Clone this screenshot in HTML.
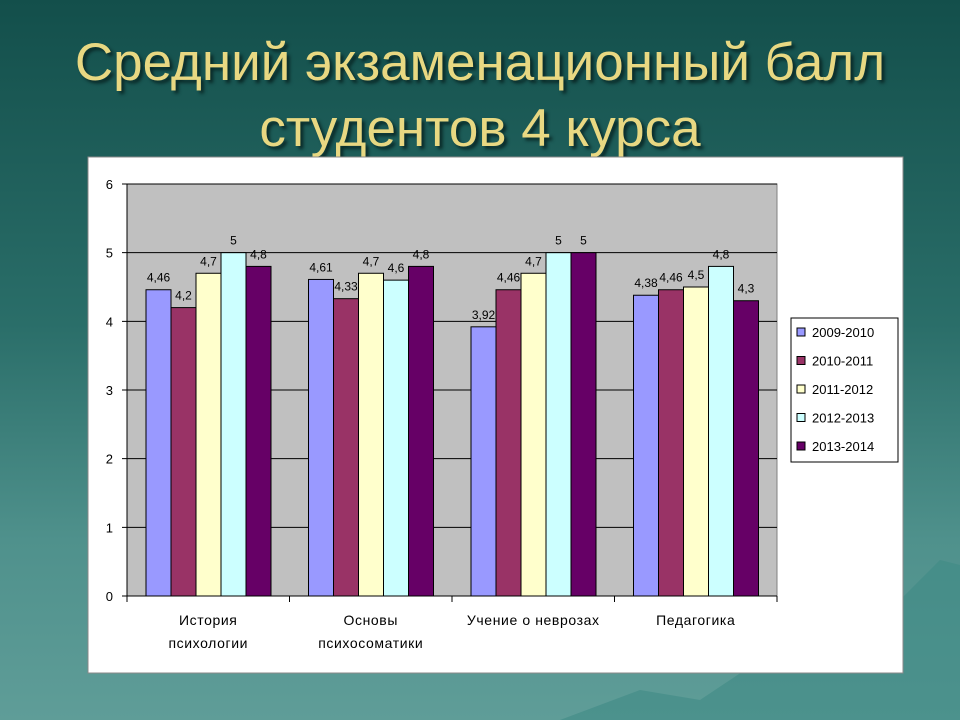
<!DOCTYPE html>
<html><head><meta charset="utf-8">
<style>
body{margin:0;width:960px;height:720px;overflow:hidden;font-family:"Liberation Sans",sans-serif;
background:linear-gradient(180deg,#134f4b 0%,#2a6e69 45%,#4f918c 75%,#5f9d98 100%);position:relative}
#title{position:absolute;left:0;top:30px;width:960px;text-align:center;color:#e8d882;font-size:53px;line-height:66px;text-shadow:3px 3px 3px #0a2a28}
#mountain{position:absolute;left:0;top:0}
</style></head><body>
<svg id="mountain" width="960" height="720">
<polygon points="560,720 640,690 700,700 760,660 840,640 900,600 940,560 960,565 960,720" fill="#3f8a86" opacity="0.6"/>
</svg>
<div id="title">Средний экзаменационный балл<br>студентов 4 курса</div>
<svg id="chart" width="960" height="720" style="position:absolute;left:0;top:0"></svg>
<script>
const categories=[["История","психологии"],["Основы","психосоматики"],["Учение о неврозах"],["Педагогика"]];
const seriesNames=["2009-2010","2010-2011","2011-2012","2012-2013","2013-2014"];
const s0=[4.46,4.61,3.92,4.38];
const s1=[4.2,4.33,4.46,4.46];
const s2=[4.7,4.7,4.7,4.5];
const s3=[5,4.6,5,4.8];
const s4=[4.8,4.8,5,4.3];
const labels0=["4,46","4,61","3,92","4,38"];
const labels1=["4,2","4,33","4,46","4,46"];
const labels2=["4,7","4,7","4,7","4,5"];
const labels3=["5","4,6","5","4,8"];
const labels4=["4,8","4,8","5","4,3"];
const yTicks=[0,1,2,3,4,5,6];
const series=[s0,s1,s2,s3,s4];
const labels=[labels0,labels1,labels2,labels3,labels4];
const colors=["#9999ff","#993366","#ffffcc","#ccffff","#660066"];
const NS="http://www.w3.org/2000/svg";
const svg=document.getElementById('chart');
const px0=127,px1=777,py0=596,py1=184,yMax=6;
const y=v=>py0-(v/yMax)*(py0-py1);
const gw=(px1-px0)/categories.length;
const bw=25;
const x=(c,s)=>px0+c*gw+19+s*bw;
function el(t,a,p){const e=document.createElementNS(NS,t);for(const k in a)e.setAttribute(k,a[k]);(p||svg).appendChild(e);return e;}
const panel=el('rect',{x:88,y:157,width:815,height:516,fill:'#fff',stroke:'#888'});


const plot=el('rect',{x:px0,y:py1,width:px1-px0,height:py0-py1,fill:'#c0c0c0',stroke:'#808080'});


yTicks.forEach(t=>{
 const g=el('line',{x1:px0-5,x2:px1,y1:y(t),y2:y(t),stroke:'#000','stroke-width':1});
 
 
 const tl=el('text',{x:px0-14,y:y(t)+5,'text-anchor':'end','font-size':13,fill:'#000'});
 tl.textContent=t;
 
 
});
el('line',{x1:px0,x2:px0,y1:py1,y2:py0,stroke:'#000'});
for(let c=0;c<=categories.length;c++){el('line',{x1:px0+c*gw,x2:px0+c*gw,y1:py0,y2:py0+6,stroke:'#000'});}
series.forEach((s,si)=>{
 s.forEach((v,c)=>{
  const r=el('rect',{x:x(c,si),y:y(v),width:bw,height:py0-y(v),fill:colors[si],stroke:'#000','stroke-width':1});
  
  
  const t=el('text',{x:x(c,si)+bw/2,y:y(v)-8,'text-anchor':'middle','font-size':12,fill:'#000'});
  t.textContent=labels[si][c];
  
  
 });
});
categories.forEach((lines,c)=>{
 lines.forEach((ln,i)=>{
  const t=el('text',{x:px0+c*gw+gw/2,y:625+i*23,'text-anchor':'middle','font-size':14,'letter-spacing':'0.6',fill:'#000'});
  t.textContent=ln;
  
  
 });
});
const lg=el('rect',{x:791,y:318,width:107,height:144,fill:'#fff',stroke:'#000'});


seriesNames.forEach((n,i)=>{
 const yy=332+i*28.5;
 const sw=el('rect',{x:797,y:yy-4,width:8,height:8,fill:colors[i],stroke:'#000'});
 
 
 const t=el('text',{x:812,y:yy+5,'font-size':13,fill:'#000'});
 t.textContent=n;
 
 
});
</script>
</body></html>
